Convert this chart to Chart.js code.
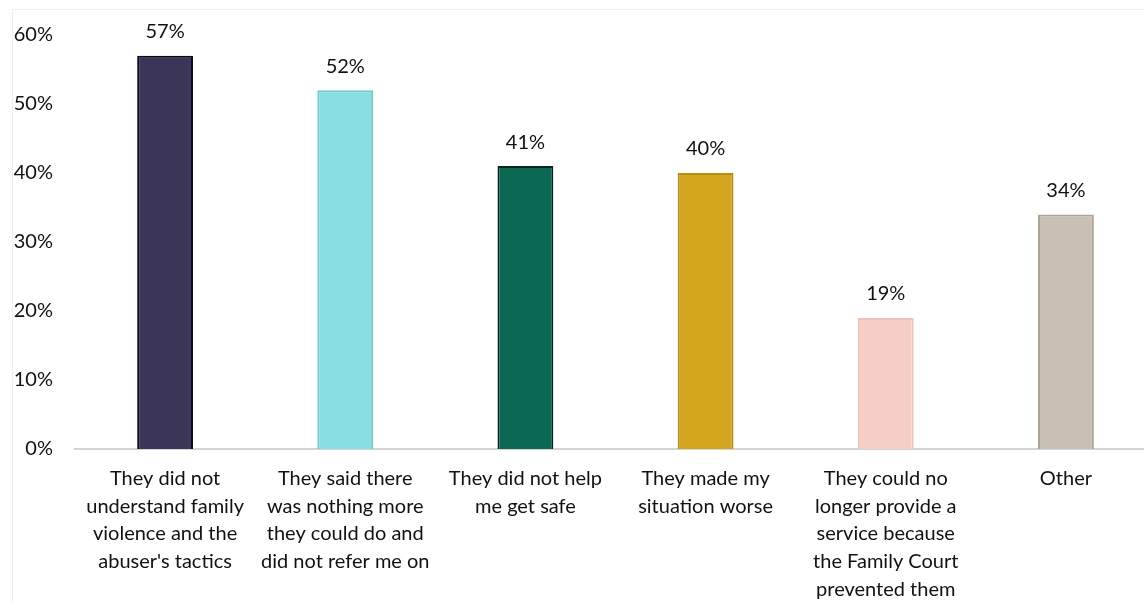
<!DOCTYPE html>
<html>
<head>
<meta charset="utf-8">
<script src="https://cdn.jsdelivr.net/npm/chart.js@4/dist/chart.umd.min.js"></script>
<style>
  html, body { margin: 0; padding: 0; background: #ffffff; overflow: hidden; }
  #wrap { position: relative; width: 1144px; height: 601px; overflow: hidden; }
  #frame { position: absolute; left: 12px; top: 9px; width: 1140px; height: 600px;
           border-left: 1px solid #f0f0f0; border-top: 1px solid #f0f0f0; box-sizing: border-box; }
  #box { position: absolute; left: 0; top: 0; width: 1160px; height: 601px; }
</style>
</head>
<body>
<div id="wrap">
  <div id="frame"></div>
  <div id="box"><canvas id="c" width="1160" height="601"></canvas></div>
</div>
<script>
const categories = [
  ["They did not", "understand family", "violence and the", "abuser's tactics"],
  ["They said there", "was nothing more", "they could do and", "did not refer me on"],
  ["They did not help", "me get safe"],
  ["They made my", "situation worse"],
  ["They could no", "longer provide a", "service because", "the Family Court", "prevented them"],
  ["Other"]
];
const percentages = [57, 52, 41, 40, 19, 34];
const yTicks = [0, 10, 20, 30, 40, 50, 60];
const fillColors = ["#3b3558", "#87dfe2", "#0b6852", "#d4a620", "#f5cfc7", "#c8c0b4"];
const edgeColors = ["#0d0a1c", "#6ccbcf", "#05261d", "#b98c12", "#eec2b8", "#aca493"];

const FONT = "Lato, 'Liberation Sans', sans-serif";
const TEXT = "#111111";

// draws the percentage above each bar
const valueLabels = {
  id: "valueLabels",
  afterDatasetsDraw(chart) {
    const ctx = chart.ctx;
    const meta = chart.getDatasetMeta(0);
    ctx.save();
    ctx.font = "20px " + FONT;
    ctx.fillStyle = TEXT;
    ctx.textAlign = "center";
    ctx.textBaseline = "middle";
    meta.data.forEach((bar, i) => {
      ctx.fillText(percentages[i] + "%", bar.x, bar.y - 24);
    });
    ctx.restore();
  }
};

new Chart(document.getElementById("c"), {
  type: "bar",
  data: {
    labels: categories,
    datasets: [{
      data: percentages,
      backgroundColor: fillColors,
      borderColor: edgeColors,
      borderWidth: 2,
      borderSkipped: "bottom",
      barPercentage: 0.31,
      categoryPercentage: 1.0
    }]
  },
  options: {
    responsive: false,
    animation: false,
    layout: { padding: { top: 35, right: 4, left: 0, bottom: 0 } },
    plugins: { legend: { display: false }, tooltip: { enabled: false } },
    scales: {
      x: {
        grid: { display: false, drawTicks: false },
        border: { display: true, color: "#d4d4d4", width: 2 },
        ticks: {
          color: TEXT,
          font: { family: FONT, size: 20, lineHeight: 1.38 },
          padding: 16,
          maxRotation: 0,
          autoSkip: false
        },
        afterFit(scale) { scale.height = 152; }
      },
      y: {
        min: 0,
        max: 60,
        afterBuildTicks(scale) { scale.ticks = yTicks.map(v => ({ value: v })); },
        grid: { display: false, drawTicks: false },
        border: { display: false },
        ticks: {
          color: TEXT,
          font: { family: FONT, size: 20 },
          padding: 22,
          callback: v => v + "%"
        },
        afterFit(scale) { scale.width = 75; }
      }
    }
  },
  plugins: [valueLabels]
});
</script>
</body>
</html>
